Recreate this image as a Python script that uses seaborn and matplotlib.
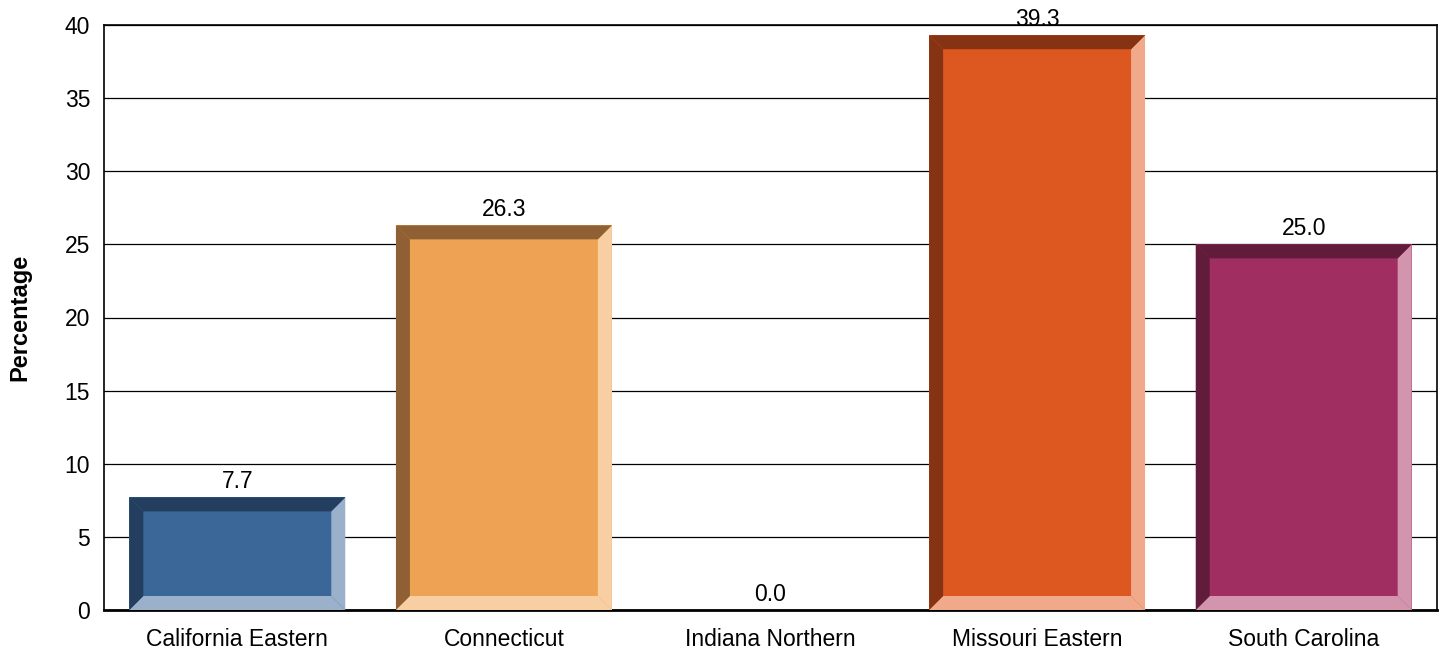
import seaborn as sns
import matplotlib.pyplot as plt
from matplotlib.patches import Polygon
import pandas as pd

districts = ["California Eastern", "Connecticut", "Indiana Northern", "Missouri Eastern", "South Carolina"]
percentages = [7.7, 26.3, 0.0, 39.3, 25.0]

face_colors = ["#3A6698", "#EEA354", "#8FA8C8", "#DD5820", "#A02E60"]
dark_colors = ["#233E5F", "#8E6033", "#555555", "#863313", "#621C3B"]
light_colors = ["#9BB1CB", "#F8CFA3", "#CCCCCC", "#F0A98B", "#D394AE"]

df = pd.DataFrame({"district": districts, "pct": percentages})

sns.set_style("white")
plt.rcParams["font.family"] = ["Liberation Sans", "DejaVu Sans"]
plt.rcParams["text.color"] = "black"
plt.rcParams["axes.labelcolor"] = "black"

fig = plt.figure(figsize=(14.42, 6.52), dpi=100)
ax = fig.add_axes([104 / 1442, 42 / 652, 1333 / 1442, 585 / 652])

sns.barplot(data=df, x="district", y="pct", hue="district", palette=face_colors,
            saturation=1, width=0.81, legend=False, ax=ax, linewidth=0, zorder=3)

ax.set_ylim(0, 40)
ax.set_yticks(range(0, 41, 5))
ax.yaxis.grid(True, color="black", linewidth=0.9, zorder=0)
ax.set_axisbelow(True)
for s in ["left", "top", "right"]:
    ax.spines[s].set_color("black")
    ax.spines[s].set_linewidth(1.2)
ax.spines["bottom"].set_color("black")
ax.spines["bottom"].set_linewidth(2)
ax.tick_params(axis="both", length=0, labelsize=16.5, colors="black")
ax.tick_params(axis="x", pad=13)
ax.tick_params(axis="y", pad=10)
ax.set_xlabel("")
ax.set_ylabel("Percentage", fontsize=17, fontweight="bold", labelpad=24)

# bevel edges, 14 px thick
fig.canvas.draw()
bev = 14
inv = ax.transData.inverted()
p0 = inv.transform((0, 0))
p1 = inv.transform((bev, bev))
dx, dy = p1[0] - p0[0], p1[1] - p0[1]

bars = sorted(ax.patches, key=lambda p: p.get_x())
for i, bar in enumerate(bars):
    h = bar.get_height()
    x0 = bar.get_x()
    x1 = x0 + bar.get_width()
    if h > 0:
        top = [(x0, h), (x1, h), (x1 - dx, h - dy), (x0 + dx, h - dy)]
        left = [(x0, h), (x0, 0), (x0 + dx, dy), (x0 + dx, h - dy)]
        right = [(x1, h), (x1, 0), (x1 - dx, dy), (x1 - dx, h - dy)]
        bottom = [(x0, 0), (x1, 0), (x1 - dx, dy), (x0 + dx, dy)]
        for pts, c in [(right, light_colors[i]), (bottom, light_colors[i]),
                       (left, dark_colors[i]), (top, dark_colors[i])]:
            ax.add_patch(Polygon(pts, closed=True, facecolor=c, edgecolor="none", zorder=4))
    ax.annotate(f"{h:.1f}", (x0 + bar.get_width() / 2, h), xytext=(0, 3),
                textcoords="offset points", ha="center", va="bottom",
                fontsize=16.5, color="black", zorder=5, annotation_clip=False)

fig.savefig("out.png", dpi=100)
